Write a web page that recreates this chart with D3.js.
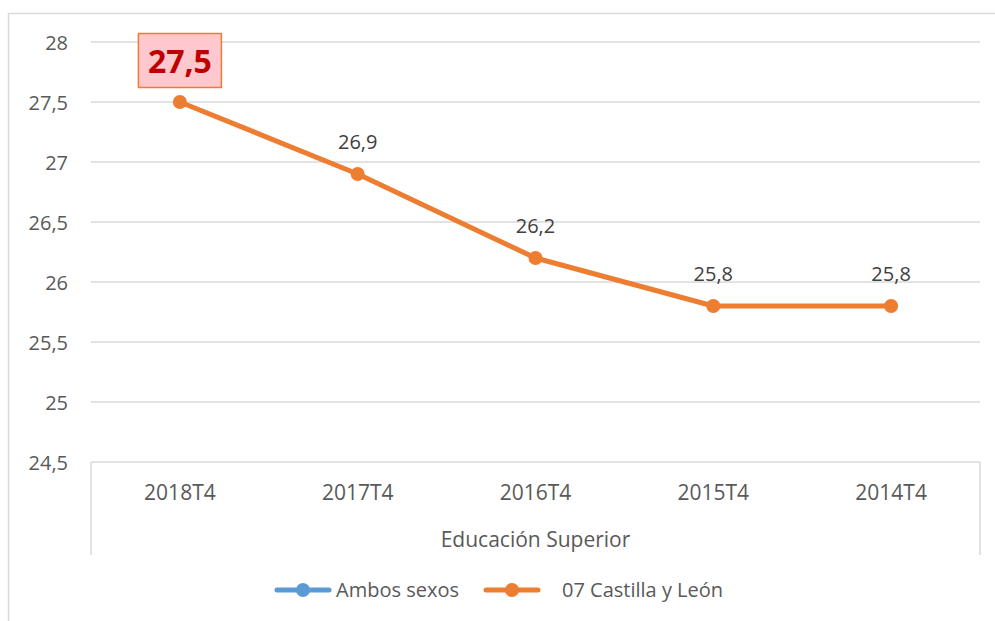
<!DOCTYPE html>
<html><head><meta charset="utf-8">
<script src="https://cdn.jsdelivr.net/npm/d3@7"></script>
<style>
html,body{margin:0;padding:0;background:#fff;}
svg{display:block;}
text{font-family:"Open Sans",sans-serif;}
</style></head>
<body>
<svg id="chart" width="995" height="621"></svg>
<script>
const categories = ["2018T4","2017T4","2016T4","2015T4","2014T4"];
const groupLabel = "Educación Superior";
const castillaLeon = [27.5, 26.9, 26.2, 25.8, 25.8];
const yTicks = [24.5, 25, 25.5, 26, 26.5, 27, 27.5, 28];
const seriesNames = ["Ambos sexos", "07 Castilla y León"];
const seriesColors = ["#5B9BD5", "#ED7D31"];

const svg = d3.select("#chart");
const m = {left: 91, right: 980, top: 42, bottom: 462};
const fmt = v => String(v).replace(".", ",");

// outer chart border
svg.append("rect").attr("x", 8.5).attr("y", 13.5).attr("width", 1000).attr("height", 700)
  .attr("fill", "none").attr("stroke", "#d9d9d9").attr("stroke-width", 1.5);

const x = d3.scaleBand().domain(categories).range([m.left, m.right]);
const y = d3.scaleLinear().domain([24.5, 28]).range([m.bottom, m.top]);

// gridlines
svg.append("g").selectAll("line").data(yTicks.filter(t => t > 24.5)).join("line")
  .attr("x1", m.left).attr("x2", m.right)
  .attr("y1", d => y(d)).attr("y2", d => y(d))
  .attr("stroke", "#d9d9d9").attr("stroke-width", 1.5);

// y axis labels
const yAxis = d3.axisLeft(y).tickValues(yTicks).tickFormat(fmt).tickSize(0).tickPadding(0);
const ya = svg.append("g").attr("transform", "translate(68,0)").call(yAxis);
ya.select(".domain").remove();
ya.selectAll("text").attr("font-size", 20).attr("fill", "#595959")
  .attr("font-family", "'Open Sans',sans-serif").attr("dy", "0.35em");

// x axis (multi-level)
svg.append("line").attr("x1", m.left).attr("x2", m.right).attr("y1", m.bottom).attr("y2", m.bottom)
  .attr("stroke", "#d9d9d9").attr("stroke-width", 1.5);
svg.selectAll(".vt").data([m.left, m.right]).join("line")
  .attr("x1", d => d).attr("x2", d => d).attr("y1", m.bottom).attr("y2", 555)
  .attr("stroke", "#d9d9d9").attr("stroke-width", 1.5);
const xAxis = d3.axisBottom(x).tickSize(0).tickPadding(0);
const xa = svg.append("g").attr("transform", `translate(0,${m.bottom})`).call(xAxis);
xa.select(".domain").remove();
xa.selectAll("text").attr("font-size", 21).attr("fill", "#595959")
  .attr("font-family", "'Open Sans',sans-serif").attr("y", 31).attr("dy", "0.35em");
svg.append("text").attr("x", (m.left + m.right) / 2).attr("y", 540).attr("dy", "0.35em")
  .attr("text-anchor", "middle").attr("font-size", 21).attr("fill", "#595959").text(groupLabel);

// line
const cx = d => x(d) + x.bandwidth() / 2;
const line = d3.line().x((d, i) => cx(categories[i])).y(d => y(d));
svg.append("path").datum(castillaLeon).attr("d", line).attr("fill", "none")
  .attr("stroke", seriesColors[1]).attr("stroke-width", 5).attr("stroke-linejoin", "round");
svg.selectAll(".pt").data(castillaLeon).join("circle")
  .attr("cx", (d, i) => cx(categories[i])).attr("cy", d => y(d)).attr("r", 7)
  .attr("fill", seriesColors[1]);

// data labels
castillaLeon.forEach((v, i) => {
  const px = cx(categories[i]), py = y(v);
  if (i === 0) {
    const g = svg.append("g");
    g.append("rect").attr("x", px - 41.5).attr("y", py - 68.5).attr("width", 83).attr("height", 54)
      .attr("fill", "#FFC7CE").attr("stroke", "#ED7D31").attr("stroke-width", 1.5);
    g.append("text").attr("x", px).attr("y", py - 40).attr("dy", "0.35em").attr("text-anchor", "middle")
      .attr("font-size", 32).attr("font-weight", "bold").attr("fill", "#C00000").text(fmt(v));
  } else {
    svg.append("text").attr("x", px).attr("y", py - 32).attr("dy", "0.35em").attr("text-anchor", "middle")
      .attr("font-size", 20).attr("fill", "#404040").text(fmt(v));
  }
});

// legend
const legendX = [277, 486], legendTextX = [336, 562];
seriesNames.forEach((n, i) => {
  const g = svg.append("g");
  g.append("line").attr("x1", legendX[i]).attr("x2", legendX[i] + 52).attr("y1", 590).attr("y2", 590)
    .attr("stroke", seriesColors[i]).attr("stroke-width", 5).attr("stroke-linecap", "round");
  g.append("circle").attr("cx", legendX[i] + 26).attr("cy", 590).attr("r", 7).attr("fill", seriesColors[i]);
  g.append("text").attr("x", legendTextX[i]).attr("y", 590).attr("dy", "0.35em")
    .attr("font-size", 20).attr("fill", "#595959").text(n);
});
</script>
</body></html>
